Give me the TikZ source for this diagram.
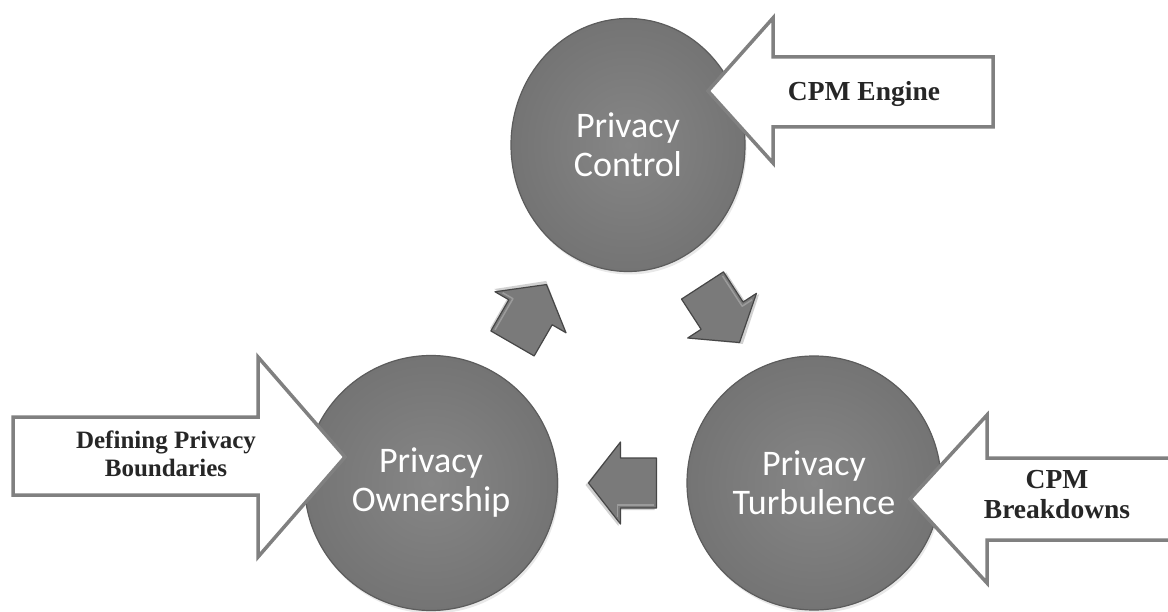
\documentclass[tikz,border=0pt]{standalone}
\usepackage{fontspec}
\setmainfont{Liberation Serif}
\newfontfamily\ballfont{Carlito}
\usetikzlibrary{shapes.geometric,shadows,calc}

\definecolor{ballinner}{RGB}{134,134,134}
\definecolor{ballouter}{RGB}{116,116,116}
\definecolor{balledge}{RGB}{92,92,92}
\definecolor{calloutgray}{RGB}{128,128,128}
\definecolor{arrowfill}{RGB}{122,122,122}
\definecolor{arrowdark}{RGB}{70,70,70}

\tikzset{
  ball/.style={ellipse, inner sep=0pt, draw=balledge, line width=1.2pt,
    inner color=ballinner, outer color=ballouter,
    drop shadow={opacity=0.18, shadow xshift=1.5pt, shadow yshift=-3pt},
    text=white, align=center,
    font=\ballfont\fontsize{36}{39}\selectfont},
  callout/.style={draw=calloutgray, fill=white, line width=3.5pt, line join=miter},
  callouttext/.style={align=center, text=black!85, font=\bfseries},
  cyclearrow/.pic={
    \fill[black, opacity=0.18] (-32,-27) -- (4,-27) -- (4,-43) -- (37,-2)
      -- (4,39) -- (4,23) -- (-32,23) -- cycle;
    \filldraw[fill=arrowfill, draw=arrowdark, line width=1.2pt, line join=round]
      (-34,-25) -- (2,-25) -- (2,-41) -- (34,0) -- (2,41) -- (2,25)
      -- (-34,25) -- cycle;
    \draw[white, opacity=0.25, line width=1.5pt, line join=round]
      (-31,-22) -- (5,-22) -- (5,-34);
  }
}

\begin{document}
\begin{tikzpicture}[x=1pt,y=-1pt]
\useasboundingbox[fill=white] (0,0) rectangle (1168,612);

% the three stages of the cycle
\node[ball, minimum width=234pt, minimum height=253pt] (ctl) at (628,145)
  {Privacy\\Control};
\node[ball, minimum width=253pt, minimum height=255pt] (own) at (431,483)
  {Privacy\\Ownership};
\node[ball, minimum width=254pt, minimum height=254pt] (tur) at (814,483)
  {Privacy\\Turbulence};

% block arrows running round the cycle
\path ($(own)!0.5!(ctl)$) pic[rotate=60] {cyclearrow};
\path ($(ctl)!0.5!(tur)$) pic[rotate=-57] {cyclearrow};
\path ($(tur)!0.5!(own)$) pic[rotate=180] {cyclearrow};

% callout arrows feeding each stage
\draw[callout] (708,91) -- (773,18) -- (773,57) -- (993,57) -- (993,127)
  -- (773,127) -- (773,163) -- cycle;
\node[callouttext, font=\bfseries\fontsize{27.5}{30}\selectfont] (engine)
  at (864,94) {CPM Engine};

\draw[callout] (345,457) -- (258,357) -- (258,417) -- (13,417) -- (13,495)
  -- (258,495) -- (258,557) -- cycle;
\node[callouttext, font=\bfseries\fontsize{25}{28}\selectfont] (bounds)
  at (166,454) {Defining Privacy\\Boundaries};

\draw[callout] (910,499) -- (987,415) -- (987,458) -- (1180,458) -- (1180,540)
  -- (987,540) -- (987,583) -- cycle;
\node[callouttext, font=\bfseries\fontsize{27.5}{30}\selectfont] (breaks)
  at (1057,495) {CPM\\Breakdowns};
\end{tikzpicture}
\end{document}
